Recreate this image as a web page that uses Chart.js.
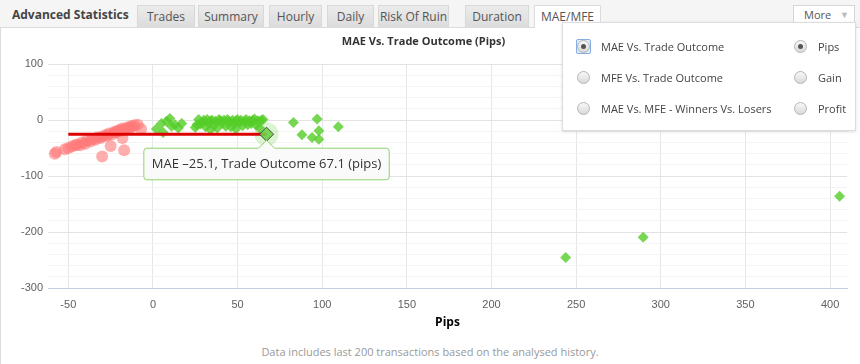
<!DOCTYPE html>
<html>
<head>
<meta charset="utf-8">
<script src="https://cdn.jsdelivr.net/npm/chart.js@4.4.1/dist/chart.umd.min.js"></script>
<style>
  body { margin: 0; background: #fff; font-family: "Open Sans", sans-serif; }
  .wrap { position: relative; width: 860px; height: 364px; overflow: hidden; }
  .head { position: absolute; left: 0; top: 0; width: 860px; height: 27px; background: #f5f5f5; border-bottom: 1px solid #dcdcdc; }
  .head .ttl { position: absolute; left: 12px; top: 6px; font-size: 12px; font-weight: bold; color: #444; }
  .tab { position: absolute; top: 5px; height: 21px; line-height: 21px; text-align: center; font-size: 12px; color: #555;
         background: linear-gradient(to bottom, #ebebeb, #dcdcdc); border: 1px solid #d8d8d8; border-bottom: none; }
  .tab.on { background: #fff; height: 22px; border-color: #dcdcdc; }
  .more { position: absolute; left: 793px; top: 5px; width: 60px; height: 17px; background: #fff; border: 1px solid #d6d6d6;
          font-size: 11px; color: #555; line-height: 17px; }
  .more span { position: absolute; left: 10px; }
  .more i { position: absolute; left: 46px; top: 0; font-style: normal; color: #bbb; font-size: 9px; }
  .side { position: absolute; left: 0; top: 28px; width: 1px; height: 336px; background: #dcdcdc; }
  canvas { position: absolute; left: 0; top: 28px; }
  .menu { position: absolute; left: 562px; top: 22px; width: 292px; height: 107px; background: #fff; border: 1px solid #dcdcdc;
          box-shadow: 0 1px 3px rgba(0,0,0,0.12); font-size: 11px; color: #444; }
  .rad { position: absolute; width: 11px; height: 11px; border-radius: 50%; border: 1px solid #b5b5b5;
         background: linear-gradient(to bottom, #f8f8f8, #d9d9d9); }
  .rad.on::after { content: ""; position: absolute; left: 3px; top: 3px; width: 5px; height: 5px; border-radius: 50%; background: #555; }
  .focus { position: absolute; width: 13px; height: 13px; border: 1px solid #86ade3; border-radius: 2px; background: #e3edf9; }
  .lbl { position: absolute; white-space: nowrap; }
  .foot { position: absolute; left: 0; top: 344px; width: 860px; text-align: center; font-size: 11px; color: #999; }
</style>
</head>
<body>
<div class="wrap">
  <div class="head">
    <div class="ttl">Advanced Statistics</div>
    <div class="tab" style="left:137px;width:56px">Trades</div>
    <div class="tab" style="left:198px;width:64px">Summary</div>
    <div class="tab" style="left:269px;width:51px">Hourly</div>
    <div class="tab" style="left:327px;width:45px">Daily</div>
    <div class="tab" style="left:378px;width:69px">Risk Of Ruin</div>
    <div class="tab" style="left:465px;width:62px">Duration</div>
    <div class="tab on" style="left:534px;width:65px">MAE/MFE</div>
    <div class="more"><span>More</span><i>&#9660;</i></div>
  </div>
  <div class="side"></div>
  <canvas id="maeChart" width="860" height="310"></canvas>
  <div class="menu">
    <div class="focus" style="left:13px;top:16px"></div>
    <div class="rad on" style="left:14px;top:17px"></div>
    <div class="lbl" style="left:38px;top:16px">MAE Vs. Trade Outcome</div>
    <div class="rad" style="left:14px;top:48px"></div>
    <div class="lbl" style="left:38px;top:47px">MFE Vs. Trade Outcome</div>
    <div class="rad" style="left:14px;top:79px"></div>
    <div class="lbl" style="left:38px;top:78px">MAE Vs. MFE - Winners Vs. Losers</div>
    <div class="rad on" style="left:231px;top:17px"></div>
    <div class="lbl" style="left:255px;top:16px">Pips</div>
    <div class="rad" style="left:231px;top:48px"></div>
    <div class="lbl" style="left:255px;top:47px">Gain</div>
    <div class="rad" style="left:231px;top:79px"></div>
    <div class="lbl" style="left:255px;top:78px">Profit</div>
  </div>
  <div class="foot">Data includes last 200 transactions based on the analysed history.</div>
</div>
<script>
// losing trades: outcome (x) vs MAE (y)
var loserX = [-58, -57, -52, -50, -48, -46, -45, -43, -42, -40, -39, -37, -36, -34, -33, -31, -30, -30, -28, -27, -26, -25, -24, -23, -22, -21, -20, -19, -18, -18, -17, -16, -15, -14, -13, -12, -11, -9, -7];
var loserY = [-60, -57, -52, -50, -47, -45, -44, -45, -40, -42, -37, -38, -34, -35, -31, -32, -29, -65, -27, -28, -24, -46, -25, -21, -22, -19, -20, -17, -32, -15, -54, -16, -13, -14, -11, -12, -9, -8, -16];

// winning trades
var winnerX = [2, 5, 8, 10, 13, 15, 17, 6, 11, 26, 27, 29, 30, 32, 34, 35, 37, 39, 40, 42, 44, 45, 47, 49, 50, 52, 54, 55, 57, 59, 60, 62, 64, 65, 28, 31, 33, 36, 41, 43, 48, 51, 53, 58, 61, 63, 25, 38, 46, 56, 34, 49, 83, 97, 109.5, 88, 94, 98, 98, 243.8, 289.6, 405.6];
var winnerY = [-16, -6, -2, 3, -8, -14, -6, -22, -11, -8, 1, -4, 0, 1, -1, 0, -2, 1, -1, 0, 1, -2, 0, -1, 1, 0, -2, 1, -1, 0, 2, -1, 0, 1, -7, -12, -6, -9, -5, -11, -7, -4, -10, -6, -9, -14, -13, -14, -12, -8, -17, -16, -4, 2, -12, -26, -31, -19, -34, -245.4, -209.5, -135.9];

// hovered trade and its MAE guide line
var selX = [67.1];
var selY = [-25.1];
var guideX = [-50, 67.1];
var guideY = [-25.1, -25.1];

var xTicks = { min: -62, max: 410, step: 50 };
var yTicks = { min: -300, max: 100, step: 20 };

function pts(xs, ys) {
  return xs.map(function(x, i) { return { x: x, y: ys[i] }; });
}
function dash(v) {
  return v.toFixed(1).replace('-', '\u2013');
}

var haloPlugin = {
  id: 'halo',
  beforeDatasetsDraw: function(chart) {
    var el = chart.getDatasetMeta(0).data[0];
    if (!el) return;
    var ctx = chart.ctx;
    ctx.save();
    ctx.beginPath();
    ctx.arc(el.x, el.y, 12, 0, Math.PI * 2);
    ctx.fillStyle = 'rgba(110,210,70,0.25)';
    ctx.fill();
    ctx.restore();
  }
};

var ctx = document.getElementById('maeChart').getContext('2d');
var chart = new Chart(ctx, {
  type: 'scatter',
  data: {
    datasets: [{
      label: 'sel',
      data: pts(selX, selY),
      order: 0,
      pointStyle: 'rectRot',
      pointRadius: 6,
      backgroundColor: 'rgba(90,205,45,0.9)',
      borderColor: 'rgba(90,205,45,0.9)',
      pointHoverRadius: 7,
      pointHoverBackgroundColor: 'rgba(110,210,70,0.9)',
      pointHoverBorderColor: '#444',
      pointHoverBorderWidth: 1
    }, {
      type: 'line',
      label: 'guide',
      data: pts(guideX, guideY),
      order: 1,
      borderColor: '#dd0000',
      borderWidth: 3,
      pointRadius: 0,
      pointHoverRadius: 0,
      fill: false
    }, {
      label: 'Winners',
      data: pts(winnerX, winnerY),
      order: 2,
      pointStyle: 'rectRot',
      pointRadius: 5.5,
      backgroundColor: 'rgba(85,205,40,0.8)',
      borderColor: 'rgba(85,205,40,0.8)',
      borderWidth: 0
    }, {
      label: 'Losers',
      data: pts(loserX, loserY),
      order: 3,
      pointStyle: 'circle',
      pointRadius: 6,
      backgroundColor: 'rgba(255,120,120,0.6)',
      borderColor: 'rgba(255,120,120,0)',
      borderWidth: 0
    }]
  },
  options: {
    responsive: false,
    animation: false,
    events: [],
    layout: { padding: { left: 0, right: 13, top: 0, bottom: 0 } },
    plugins: {
      legend: { display: false },
      title: {
        display: true,
        text: 'MAE Vs. Trade Outcome (Pips)',
        color: '#333',
        font: { family: 'Open Sans', size: 11, weight: 'bold' },
        padding: { top: 7, bottom: 16 }
      },
      tooltip: {
        yAlign: 'top',
        xAlign: 'center',
        backgroundColor: 'rgba(250,250,250,0.96)',
        borderColor: '#8fd36c',
        borderWidth: 1,
        bodyColor: '#333',
        bodyFont: { family: 'Open Sans', size: 13 },
        padding: { left: 8, right: 8, top: 8, bottom: 8 },
        caretSize: 8,
        caretPadding: 6,
        cornerRadius: 3,
        displayColors: false,
        callbacks: {
          title: function() { return ''; },
          label: function(c) {
            return 'MAE ' + dash(c.parsed.y) + ', Trade Outcome ' + dash(c.parsed.x) + ' (pips)';
          }
        }
      }
    },
    scales: {
      x: {
        type: 'linear',
        min: xTicks.min,
        max: xTicks.max,
        afterFit: function(s) { s.height = 50; },
        ticks: { stepSize: xTicks.step, includeBounds: false, padding: 10, color: '#606060',
                 font: { family: 'Liberation Sans', size: 11 } },
        grid: { color: '#e6e6e6', drawTicks: false },
        border: { color: '#c0d0e0', width: 1 },
        title: { display: true, text: 'Pips', color: '#000',
                 font: { family: 'Open Sans', size: 12, weight: 'bold' }, padding: { top: 0, bottom: 8 } }
      },
      y: {
        type: 'linear',
        min: yTicks.min,
        max: yTicks.max,
        afterFit: function(s) { s.width = 48; },
        ticks: {
          stepSize: yTicks.step, autoSkip: false, padding: 5, color: '#606060',
          font: { family: 'Liberation Sans', size: 11 },
          callback: function(v) { return v % 100 === 0 ? v : ''; }
        },
        grid: {
          drawTicks: false,
          color: function(c) { return c.tick && c.tick.value % 100 === 0 ? '#e3e3e3' : '#f3f3f3'; }
        },
        border: { display: false }
      }
    }
  },
  plugins: [haloPlugin]
});

var act = [{ datasetIndex: 0, index: 0 }];
var el = chart.getDatasetMeta(0).data[0];
chart.setActiveElements(act);
chart.tooltip.setActiveElements(act, { x: el.x, y: el.y });
chart.update();
</script>
</body>
</html>
